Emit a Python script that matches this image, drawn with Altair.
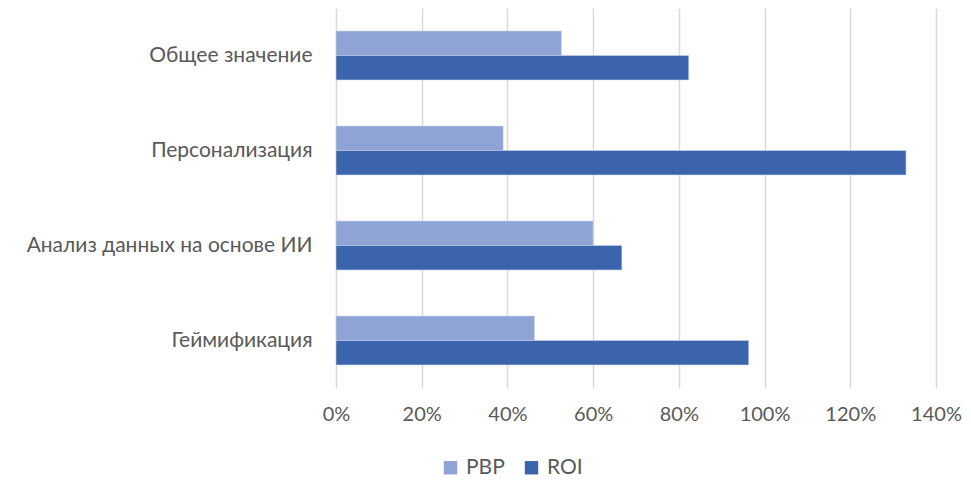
import altair as alt
import pandas as pd

categories = ["Общее значение", "Персонализация", "Анализ данных на основе ИИ", "Геймификация"]
series = ["PBP", "ROI"]
pbp = [0.526, 0.390, 0.600, 0.463]
roi = [0.823, 1.330, 0.667, 0.963]
colors = ["#8FA4D5", "#3C64AC"]
x_ticks = [0, 0.2, 0.4, 0.6, 0.8, 1.0, 1.2, 1.4]

rows = []
for c, p, r in zip(categories, pbp, roi):
    rows.append({"cat": c, "series": "PBP", "value": p})
    rows.append({"cat": c, "series": "ROI", "value": r})
df = pd.DataFrame(rows)

FONT = "Lato"
TXT = "#595959"
FS = 21

chart = alt.Chart(df).mark_bar(stroke="#c8d3ec", strokeWidth=0.6).encode(
    y=alt.Y("cat:N", sort=categories, title=None,
            scale=alt.Scale(paddingInner=0.485, paddingOuter=0.2425),
            axis=alt.Axis(domain=False, ticks=False, labelPadding=24, labelFontSize=FS,
                          labelColor=TXT, labelFont=FONT, grid=False, labelLimit=0)),
    yOffset=alt.YOffset("series:N", sort=series),
    x=alt.X("value:Q", title=None,
            scale=alt.Scale(domain=[0, 1.4], nice=False),
            axis=alt.Axis(values=x_ticks, format=".0%", domain=False, ticks=False,
                          labelFlush=False, labelPadding=16, labelFontSize=20,
                          labelColor=TXT, labelFont=FONT,
                          gridColor="#d9d9d9", gridWidth=1.5)),
    color=alt.Color("series:N", sort=series,
                    scale=alt.Scale(domain=series, range=colors),
                    legend=alt.Legend(title=None, orient="none", direction="horizontal",
                                      legendX=104, legendY=449, symbolType="square",
                                      symbolSize=180, symbolStrokeWidth=0, labelFontSize=FS,
                                      labelColor=TXT, labelFont=FONT, labelOffset=5,
                                      columnPadding=16)),
).properties(
    width=600, height=380,
    autosize=alt.AutoSizeParams(type="none"),
    padding={"left": 328, "top": 0, "right": 27, "bottom": 90},
).configure_view(stroke=None)

chart.save("out.html", embed_options={"renderer": "svg", "actions": False})
